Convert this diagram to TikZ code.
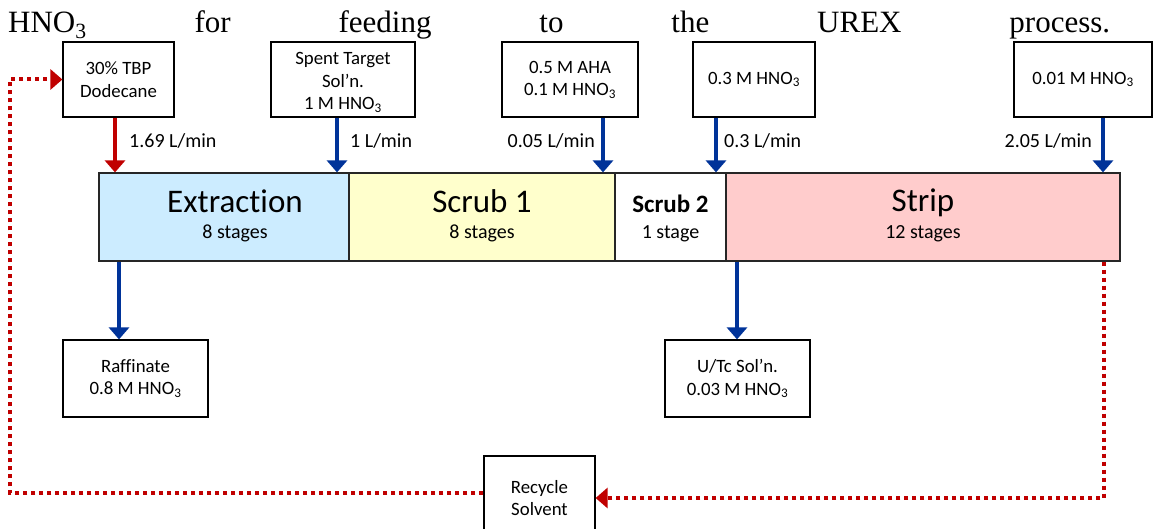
\documentclass[tikz,border=0pt]{standalone}
\usepackage{fontspec}
\setmainfont{Carlito}[Ligatures=NoCommon]
\newfontfamily\headfont{Liberation Serif}
\usetikzlibrary{arrows.meta}
\definecolor{flowblue}{RGB}{0,51,153}
\definecolor{flowred}{RGB}{192,0,0}
\definecolor{extfill}{RGB}{204,236,255}
\definecolor{scrubfill}{RGB}{255,255,204}
\definecolor{stripfill}{RGB}{255,204,204}
\begin{document}
\begin{tikzpicture}[x=1pt,y=-1pt,
  box/.style={draw=black, line width=1.2pt, fill=white, align=center, inner sep=0pt,
    font=\fontsize{18.8}{22.5}\selectfont},
  boxtext/.style={align=center, inner sep=0pt, font=\fontsize{18.8}{22.5}\selectfont},
  stage/.style={draw=black!85, line width=1.2pt, minimum height=88pt, inner sep=0pt},
  feed/.style={draw=flowblue, line width=4pt, -{Triangle[width=20pt,length=12pt]}},
  solvent/.style={draw=flowred, line width=4pt, -{Triangle[width=20pt,length=12pt]}},
  recycle/.style={draw=flowred, line width=4pt, dash pattern=on 4pt off 4pt,
    -{Triangle[width=20pt,length=12pt]}},
  rate/.style={font=\fontsize{20}{24}\selectfont, inner sep=0pt},
  stagetitle/.style={font=\fontsize{33}{36}\selectfont, inner sep=0pt, anchor=base},
  stagecount/.style={font=\fontsize{20}{24}\selectfont, inner sep=0pt, anchor=base}]
\useasboundingbox (0,0) rectangle (1157,529);

% heading line
\node[anchor=base west, inner sep=0pt, font=\headfont\fontsize{31}{31}\selectfont] (head) at (8,33)
  {\hbox to 1102pt{HNO\textsubscript{3}\hfill for\hfill feeding\hfill to\hfill the\hfill UREX\hfill process.}};

% feed boxes
\node[box, minimum width=111pt, minimum height=75pt] (tbp) at (118.5,79.5) {30\% TBP\\Dodecane};
\node[box, minimum width=144pt, minimum height=75pt] (spent) at (343,79.5) {};
\node[boxtext] (spentT) at ([yshift=-3pt]spent.center) {Spent Target\\Sol'n.\\1 M HNO\textsubscript{3}};
\node[box, minimum width=136pt, minimum height=75pt] (aha) at (570,79.5) {0.5 M AHA\\0.1 M HNO\textsubscript{3}};
\node[box, minimum width=122pt, minimum height=75pt] (acid) at (754,79.5) {0.3 M HNO\textsubscript{3}};
\node[box, minimum width=138pt, minimum height=75pt] (wash) at (1083,79.5) {0.01 M HNO\textsubscript{3}};

% contactor stages
\node[stage, fill=extfill, minimum width=250pt] (ext) at (224,217) {};
\node[stage, fill=scrubfill, minimum width=266pt] (sc1) at (482,217) {};
\node[stage, fill=white, minimum width=111pt] (sc2) at (670.5,217) {};
\node[stage, fill=stripfill, minimum width=394pt] (strip) at (923,217) {};

\node[stagetitle] (extT) at (235,213) {Extraction};
\node[stagecount] (extN) at (235,239) {8 stages};
\node[stagetitle] (sc1T) at (sc1.center |- 0,213) {Scrub 1};
\node[stagecount] (sc1N) at (sc1.center |- 0,239) {8 stages};
\node[stagetitle, font=\bfseries\fontsize{25}{30}\selectfont] (sc2T) at (sc2.center |- 0,213) {Scrub 2};
\node[stagecount] (sc2N) at (sc2.center |- 0,239) {1 stage};
\node[stagetitle] (stripT) at (strip.center |- 0,212) {Strip};
\node[stagecount] (stripN) at (strip.center |- 0,239) {12 stages};

% product boxes
\node[box, minimum width=145pt, minimum height=77pt] (raff) at (135.5,378.5) {Raffinate\\0.8 M HNO\textsubscript{3}};
\node[box, minimum width=145pt, minimum height=77pt] (prod) at (737.5,378.5) {U/Tc Sol'n.\\0.03 M HNO\textsubscript{3}};
\node[box, minimum width=111pt, minimum height=84pt] (rec) at (539.5,498) {Recycle\\Solvent};

% stream positions
\coordinate (xs) at (115,0);
\coordinate (xf) at (337,0);
\coordinate (xa) at (603,0);
\coordinate (xn) at (716,0);
\coordinate (xw) at (1103,0);
\coordinate (xr) at (119,0);
\coordinate (xu) at (737,0);
\coordinate (xd) at (1104,0);
\coordinate (xl) at (10,0);

% inlet streams
\draw[solvent] (tbp.south -| xs) -- (ext.north -| xs);
\draw[feed] (spent.south -| xf) -- (ext.north -| xf);
\draw[feed] (aha.south -| xa) -- (sc1.north -| xa);
\draw[feed] (acid.south -| xn) -- (sc2.north -| xn);
\draw[feed] (wash.south -| xw) -- (strip.north -| xw);

\node[rate, anchor=base west] (r1) at (129,148) {1.69 L/min};
\node[rate, anchor=base west] (r2) at (350,148) {1 L/min};
\node[rate, anchor=base east] (r3) at (595,148) {0.05 L/min};
\node[rate, anchor=base west] (r4) at (724,148) {0.3 L/min};
\node[rate, anchor=base east] (r5) at (1092,148) {2.05 L/min};

% outlet streams
\draw[feed] (ext.south -| xr) -- (raff.north -| xr);
\draw[feed] (strip.south -| xu) -- (prod.north -| xu);

% solvent recycle loop
\draw[recycle] (strip.south -| xd) |- (rec.east);
\draw[recycle] ([yshift=5pt]rec.west) -| (xl |- tbp.west) -- (tbp.west);
\end{tikzpicture}
\end{document}
